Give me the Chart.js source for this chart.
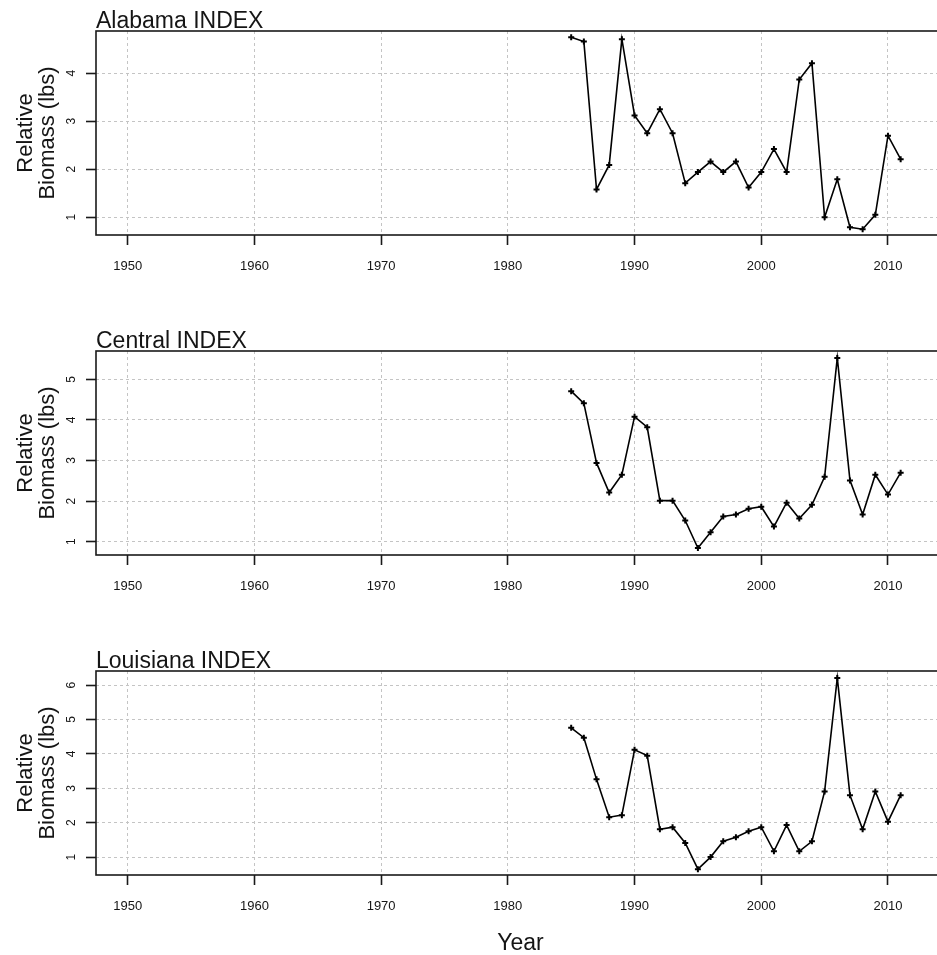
<!DOCTYPE html>
<html lang="en">
<head>
    <meta charset="UTF-8">
    <title>Relative Biomass INDEX</title>
    <script src="https://cdn.jsdelivr.net/npm/chart.js"></script>
    <style>
        body {
            margin: 0;
            padding: 0;
            background: #ffffff;
            overflow: hidden;
        }
        #wrap {
            position: relative;
            width: 937px;
            height: 955px;
            overflow: hidden;
        }
        #wrap canvas {
            position: absolute;
            left: 0;
        }
    </style>
</head>
<body>
    <div id="wrap">
        <canvas id="panel0" width="960" height="320" style="top:0px"></canvas>
        <canvas id="panel1" width="960" height="320" style="top:320px"></canvas>
        <canvas id="panel2" width="960" height="315" style="top:640px"></canvas>
    </div>
    <script>
        // data
        const years = [1985, 1986, 1987, 1988, 1989, 1990, 1991, 1992, 1993, 1994,
                       1995, 1996, 1997, 1998, 1999, 2000, 2001, 2002, 2003, 2004,
                       2005, 2006, 2007, 2008, 2009, 2010, 2011];
        const alabamaIndex = [4.75, 4.66, 1.58, 2.09, 4.71, 3.12, 2.75, 3.25, 2.75, 1.71,
                              1.94, 2.16, 1.94, 2.16, 1.62, 1.94, 2.42, 1.94, 3.87, 4.21,
                              1.00, 1.79, 0.79, 0.75, 1.05, 2.70, 2.21];
        const centralIndex = [4.71, 4.41, 2.94, 2.21, 2.65, 4.08, 3.82, 2.01, 2.01, 1.52,
                              0.84, 1.23, 1.62, 1.67, 1.81, 1.86, 1.37, 1.96, 1.57, 1.91,
                              2.60, 5.53, 2.51, 1.67, 2.65, 2.16, 2.70];
        const louisianaIndex = [4.76, 4.47, 3.26, 2.16, 2.22, 4.12, 3.95, 1.81, 1.87, 1.41,
                                0.65, 1.00, 1.46, 1.58, 1.75, 1.87, 1.17, 1.93, 1.17, 1.46,
                                2.91, 6.21, 2.80, 1.81, 2.91, 2.03, 2.80];
        const panelTitles = ['Alabama INDEX', 'Central INDEX', 'Louisiana INDEX'];
        const yTitleLines = ['Relative', 'Biomass (lbs)'];
        const xTitle = 'Year';

        const FONT = '"Liberation Sans", Arial, sans-serif';
        const INK = '#151515';

        // frame, titles and rotated y labels (R style)
        const panelText = {
            id: 'panelText',
            afterDraw(chart, args, opts) {
                const ctx = chart.ctx;
                const a = chart.chartArea;
                const ys = chart.scales.y;
                ctx.save();

                ctx.strokeStyle = '#1a1a1a';
                ctx.lineWidth = 1.6;
                ctx.strokeRect(a.left, a.top, a.right - a.left, a.bottom - a.top);

                ctx.fillStyle = INK;
                ctx.font = '23px ' + FONT;
                ctx.textAlign = 'left';
                ctx.textBaseline = 'alphabetic';
                ctx.fillText(opts.title, a.left, a.top - 3);

                // y tick labels, rotated
                ctx.font = '12px ' + FONT;
                ctx.textAlign = 'center';
                ys.ticks.forEach(t => {
                    const py = ys.getPixelForValue(t.value);
                    ctx.save();
                    ctx.translate(0, py);
                    ctx.rotate(-Math.PI / 2);
                    ctx.fillText(String(t.value), 0, 74.5);
                    ctx.restore();
                });

                // y title, two lines
                const cy = (a.top + a.bottom) / 2;
                ctx.font = '22px ' + FONT;
                ctx.save();
                ctx.translate(0, cy);
                ctx.rotate(-Math.PI / 2);
                ctx.fillText(yTitleLines[0], 0, 32);
                ctx.fillText(yTitleLines[1], 0, 53.5);
                ctx.restore();

                if (opts.xTitle) {
                    ctx.font = '23px ' + FONT;
                    ctx.fillText(opts.xTitle, (a.left + a.right) / 2, a.bottom + 75);
                }
                ctx.restore();
            }
        };

        function makePanel(canvasId, title, values, yMin, yMax, withXTitle) {
            const points = years.map((yr, i) => ({ x: yr, y: values[i] }));
            const ctx = document.getElementById(canvasId).getContext('2d');
            const h = ctx.canvas.height;
            return new Chart(ctx, {
                type: 'line',
                data: {
                    datasets: [{
                        data: points,
                        borderColor: '#000',
                        borderWidth: 1.6,
                        pointStyle: 'cross',
                        pointRadius: 3,
                        pointBorderWidth: 2,
                        pointBorderColor: '#000',
                        pointBackgroundColor: '#000',
                        tension: 0,
                        fill: false
                    }]
                },
                options: {
                    responsive: false,
                    animation: false,
                    devicePixelRatio: 1,
                    layout: {
                        padding: { left: 96, right: 15, top: 31, bottom: 0 }
                    },
                    plugins: {
                        legend: { display: false },
                        tooltip: { enabled: false },
                        title: { display: false },
                        panelText: { title: title, xTitle: withXTitle ? xTitle : null }
                    },
                    scales: {
                        x: {
                            type: 'linear',
                            min: 1947.5,
                            max: 2014.5,
                            afterFit: s => { s.height = h - 235; },
                            border: { display: false, dash: [3, 3] },
                            grid: {
                                color: '#c4c4c4',
                                lineWidth: 1,
                                tickLength: 10,
                                tickColor: '#1a1a1a',
                                tickWidth: 1.6
                            },
                            ticks: {
                                stepSize: 10,
                                includeBounds: false,
                                padding: 14,
                                color: INK,
                                maxRotation: 0,
                                autoSkip: false,
                                font: { size: 13, family: FONT },
                                callback: v => String(v)
                            }
                        },
                        y: {
                            min: yMin,
                            max: yMax,
                            afterFit: s => { s.width = 0; },
                            border: { display: false, dash: [3, 3] },
                            grid: {
                                color: '#c4c4c4',
                                lineWidth: 1,
                                tickLength: 10,
                                tickColor: '#1a1a1a',
                                tickWidth: 1.6
                            },
                            ticks: {
                                stepSize: 1,
                                includeBounds: false,
                                display: false
                            }
                        }
                    }
                },
                plugins: [panelText]
            });
        }

        makePanel('panel0', panelTitles[0], alabamaIndex, 0.63, 4.88, false);
        makePanel('panel1', panelTitles[1], centralIndex, 0.67, 5.70, false);
        makePanel('panel2', panelTitles[2], louisianaIndex, 0.48, 6.41, true);
    </script>
</body>
</html>
